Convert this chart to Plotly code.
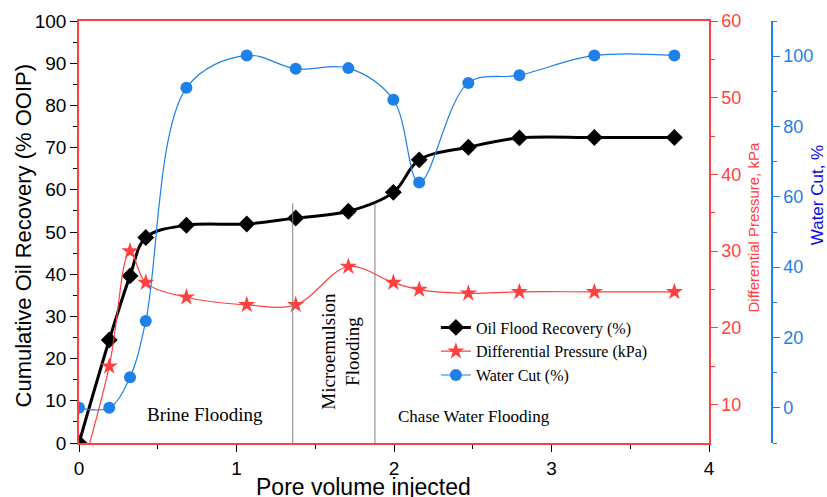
import plotly.graph_objects as go

# ---- data ----
pv = [0, 0.192, 0.324, 0.424, 0.682, 1.065, 1.376, 1.71, 1.996, 2.16, 2.472, 2.796, 3.272, 3.78]
oil_recovery = [0, 24.4, 39.6, 48.7, 51.6, 51.9, 53.3, 54.9, 59.4, 67.1, 70.1, 72.3, 72.4, 72.4]
diff_pressure = [0, 15.0, 30.0, 25.9, 24.0, 23.0, 23.0, 28.0, 25.9, 25.0, 24.5, 24.7, 24.7, 24.7]
water_cut = [0, 0, 8.7, 24.7, 91.0, 100.2, 96.4, 96.6, 87.6, 64.1, 92.4, 94.6, 100.2, 100.2]

phase_bounds = [1.357, 1.879]
phase_bound_top = 56.8
phase_labels = ["Brine Flooding", "Microemulsion<br>Flooding", "Chase Water Flooding"]
phase_label_x = [0.80, 1.665, 2.508]
phase_label_y = [6.8, 21.7, 6.3]

RED = "#FF4040"
BLUE = "#1E80E8"
SERIF = "Liberation Serif"
SANS = "Liberation Sans, Arial"

fig = go.Figure()
fig.add_trace(go.Scatter(
    x=pv, y=oil_recovery, name="Oil Flood Recovery (%)", mode="lines+markers",
    line=dict(color="black", width=3, shape="spline", smoothing=1.0),
    marker=dict(symbol="diamond", size=13, color="black"), yaxis="y"))
fig.add_trace(go.Scatter(
    x=pv, y=diff_pressure, name="Differential Pressure (kPa)", mode="lines+markers",
    line=dict(color=RED, width=1.2, shape="spline", smoothing=1.0),
    marker=dict(symbol="star", size=13, color=RED), yaxis="y2"))
fig.add_trace(go.Scatter(
    x=pv, y=water_cut, name="Water Cut (%)", mode="lines+markers",
    line=dict(color=BLUE, width=1.2, shape="spline", smoothing=1.0),
    marker=dict(symbol="circle", size=12, color=BLUE), yaxis="y3"))

for xb in phase_bounds:
    fig.add_shape(type="line", xref="x", yref="y", x0=xb, x1=xb, y0=0, y1=phase_bound_top,
                  line=dict(color="#7f7f7f", width=1))

sizes = [19, 19, 17]
for txt, xx, yy, sz in zip(phase_labels, phase_label_x, phase_label_y, sizes):
    fig.add_annotation(x=xx, y=yy, xref="x", yref="y", text=txt, showarrow=False,
                       xanchor="center", yanchor="middle",
                       textangle=-90 if "<br>" in txt else 0,
                       font=dict(family=SERIF, size=sz, color="black"))

# axis titles as annotations
def title_ann(x, y, text, size, color, angle=0):
    fig.add_annotation(x=x, y=y, xref="paper", yref="paper", showarrow=False,
                       xanchor="center", yanchor="middle", text=text, textangle=angle,
                       font=dict(family=SANS, size=size, color=color))

title_ann(-0.0794, 0.4917, "Cumulative Oil Recovery (% OOIP)", 22, "black", -90)
title_ann(0.411, -0.105, "Pore volume injected", 23, "black")
title_ann(0.9726, 0.5107, "Differential Pressure, kPa", 15, RED, -90)
title_ann(1.066, 0.5865, "Water Cut, %", 17, "#0A0AE6", -90)

fig.update_layout(
    width=827, height=497,
    margin=dict(l=79, r=55, t=21, b=54),
    paper_bgcolor="white", plot_bgcolor="white",
    showlegend=True,
    legend=dict(x=0.515, y=0.314, xanchor="left", yanchor="top",
                font=dict(family=SERIF, size=16, color="black"),
                bgcolor="rgba(0,0,0,0)", tracegroupgap=0, itemwidth=30),
    xaxis=dict(domain=[0, 0.9091], range=[0, 4], dtick=1, showgrid=False, zeroline=False,
               showline=True, linecolor=RED, linewidth=1.5, mirror=True,
               ticks="outside", ticklen=7, tickcolor="black", tickwidth=1.2,
               minor=dict(dtick=0.5, ticks="outside", ticklen=4, tickcolor="black"),
               tickfont=dict(family=SANS, size=19, color="black")),
    yaxis=dict(range=[0, 100], dtick=10, showgrid=False, zeroline=False,
               showline=True, linecolor=RED, linewidth=1.5,
               ticks="outside", ticklen=7, tickcolor="black", tickwidth=1.2,
               minor=dict(dtick=5, ticks="outside", ticklen=4, tickcolor="black"),
               tickfont=dict(family=SANS, size=19, color="black")),
    yaxis2=dict(range=[5, 60], tickvals=[10, 20, 30, 40, 50, 60], overlaying="y", side="right",
                anchor="x", showgrid=False, zeroline=False,
                showline=True, linecolor=RED, linewidth=1.5,
                ticks="outside", ticklen=7, tickcolor=RED, tickwidth=1.2,
                minor=dict(tickvals=[15, 25, 35, 45, 55], ticks="outside", ticklen=4, tickcolor=RED),
                tickfont=dict(family=SANS, size=18, color=RED)),
    yaxis3=dict(range=[-10, 110], tickvals=[0, 20, 40, 60, 80, 100], overlaying="y", side="right",
                anchor="free", position=1.0, showgrid=False, zeroline=False,
                showline=True, linecolor=BLUE, linewidth=1.5,
                ticks="outside", ticklen=7, tickcolor=BLUE, tickwidth=1.2,
                minor=dict(tickvals=[-10, 10, 30, 50, 70, 90, 110], ticks="outside", ticklen=4, tickcolor=BLUE),
                tickfont=dict(family=SANS, size=18, color=BLUE)),
)

fig.write_html("out.html")
